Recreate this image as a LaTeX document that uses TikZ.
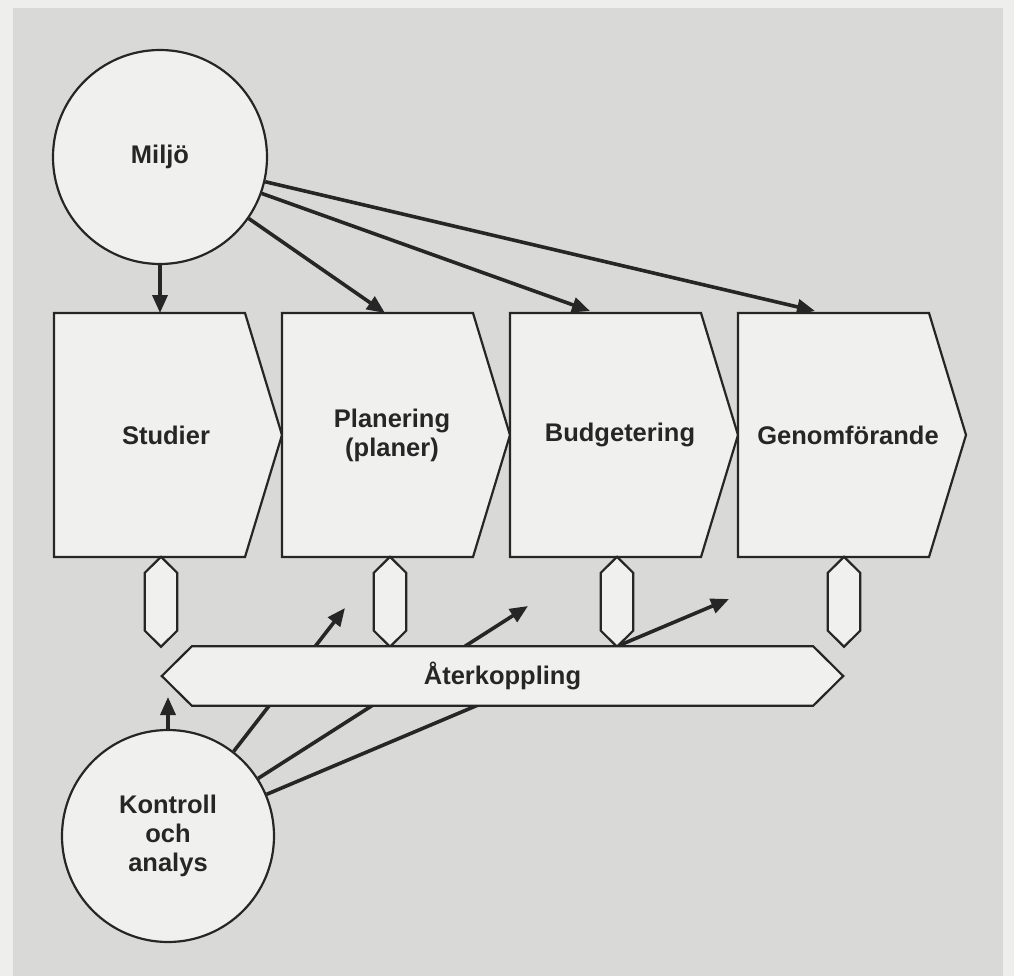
\documentclass[tikz,border=0pt]{standalone}
\usepackage{fontspec}
\setmainfont{Liberation Sans}
\usetikzlibrary{arrows.meta}

\definecolor{paper}{HTML}{EEEEEC}
\definecolor{plate}{HTML}{D9D9D7}
\definecolor{cardfill}{HTML}{F0F0EE}
\definecolor{ink}{HTML}{262626}

\pgfdeclarelayer{paperlayer}
\pgfdeclarelayer{wires}
\pgfdeclarelayer{plates}
\pgfsetlayers{paperlayer,wires,plates,main}

\begin{document}
\begin{tikzpicture}[x=1bp,y=-1bp,
  lbl/.style={font=\bfseries\fontsize{25.5bp}{29bp}\selectfont, text=ink, align=center},
  stagebox/.style={lbl, rectangle, minimum width=228bp, minimum height=244bp, inner sep=0pt},
  hexslot/.style={rectangle, minimum width=32bp, minimum height=89.5bp, inner sep=0pt},
  roundnode/.style={lbl, circle, draw=ink, line width=2.2bp, fill=cardfill, inner sep=0pt},
  outline/.style={draw=ink, line width=2.2bp, fill=cardfill, line join=miter},
  feed/.style={draw=ink, line width=3.6bp, -{Triangle[length=18bp,width=15bp]}},
  ]
\useasboundingbox (0,0) rectangle (1014,976);

% paper and grey plate
\begin{pgfonlayer}{paperlayer}
  \fill[paper] (0,0) rectangle (1014,976);
  \fill[plate] (13,8) rectangle (1003,976);
\end{pgfonlayer}

% the two circles
\node[roundnode, minimum size=214bp] (mil) at (160,157) {Miljö};
\node[roundnode, minimum size=212bp] (kon) at (168,836) {Kontroll\\och\\analys};

% the four stages
\node[stagebox] (stud) at (166,435) {Studier};
\node[stagebox] (plan) at (392,435) {Planering\\(planer)};
\node[stagebox] (budg) at (620,435) {Budgetering};
\node[stagebox] (genf) at (848,435) {Genomförande};

% feedback bar
\node[lbl, rectangle, minimum width=681bp, minimum height=59bp, inner sep=0pt] (fb) at (502.5,676) {Återkoppling};

% links between stages and the bar
\node[hexslot] (h1) at (161,601.75) {};
\node[hexslot] (h2) at (390,601.75) {};
\node[hexslot] (h3) at (617,601.75) {};
\node[hexslot] (h4) at (844,601.75) {};

\begin{pgfonlayer}{plates}
  \foreach \n/\l in {stud/54,plan/282,budg/510,genf/738}
    \path[outline] (\l,313) -- (\l+191,313) -- (\l+228,435)
      -- (\l+191,557) -- (\l,557) -- cycle;
  \foreach \n in {h1,h2,h3,h4}
    \path[outline] (\n.north) -- ([yshift=-16bp]\n.north east) -- ([yshift=16bp]\n.south east)
      -- (\n.south) -- ([yshift=16bp]\n.south west) -- ([yshift=-16bp]\n.north west) -- cycle;
  \path[outline] (fb.west) -- ([xshift=30bp]fb.north west) -- ([xshift=-30bp]fb.north east)
    -- (fb.east) -- ([xshift=-30bp]fb.south east) -- ([xshift=30bp]fb.south west) -- cycle;
\end{pgfonlayer}

% arrow ends
\coordinate (m1) at (160,313);
\coordinate (m2) at (385,313);
\coordinate (m3) at (590,311);
\coordinate (m4) at (815,311);
\coordinate (k0) at (168,697);
\coordinate (k1) at (345,608);
\coordinate (k2) at (528,606);
\coordinate (k3) at (729,599);

\begin{pgfonlayer}{wires}
  \draw[feed] (mil.south) -- (m1);
  \draw[feed] (mil) -- (m2);
  \draw[feed] (mil) -- (m3);
  \draw[feed] (mil) -- (m4);
  \draw[feed] (kon.north) -- (k0);
  \draw[feed] (kon) -- (k1);
  \draw[feed] (kon) -- (k2);
  \draw[feed] (kon) -- (k3);
\end{pgfonlayer}
\end{tikzpicture}
\end{document}
